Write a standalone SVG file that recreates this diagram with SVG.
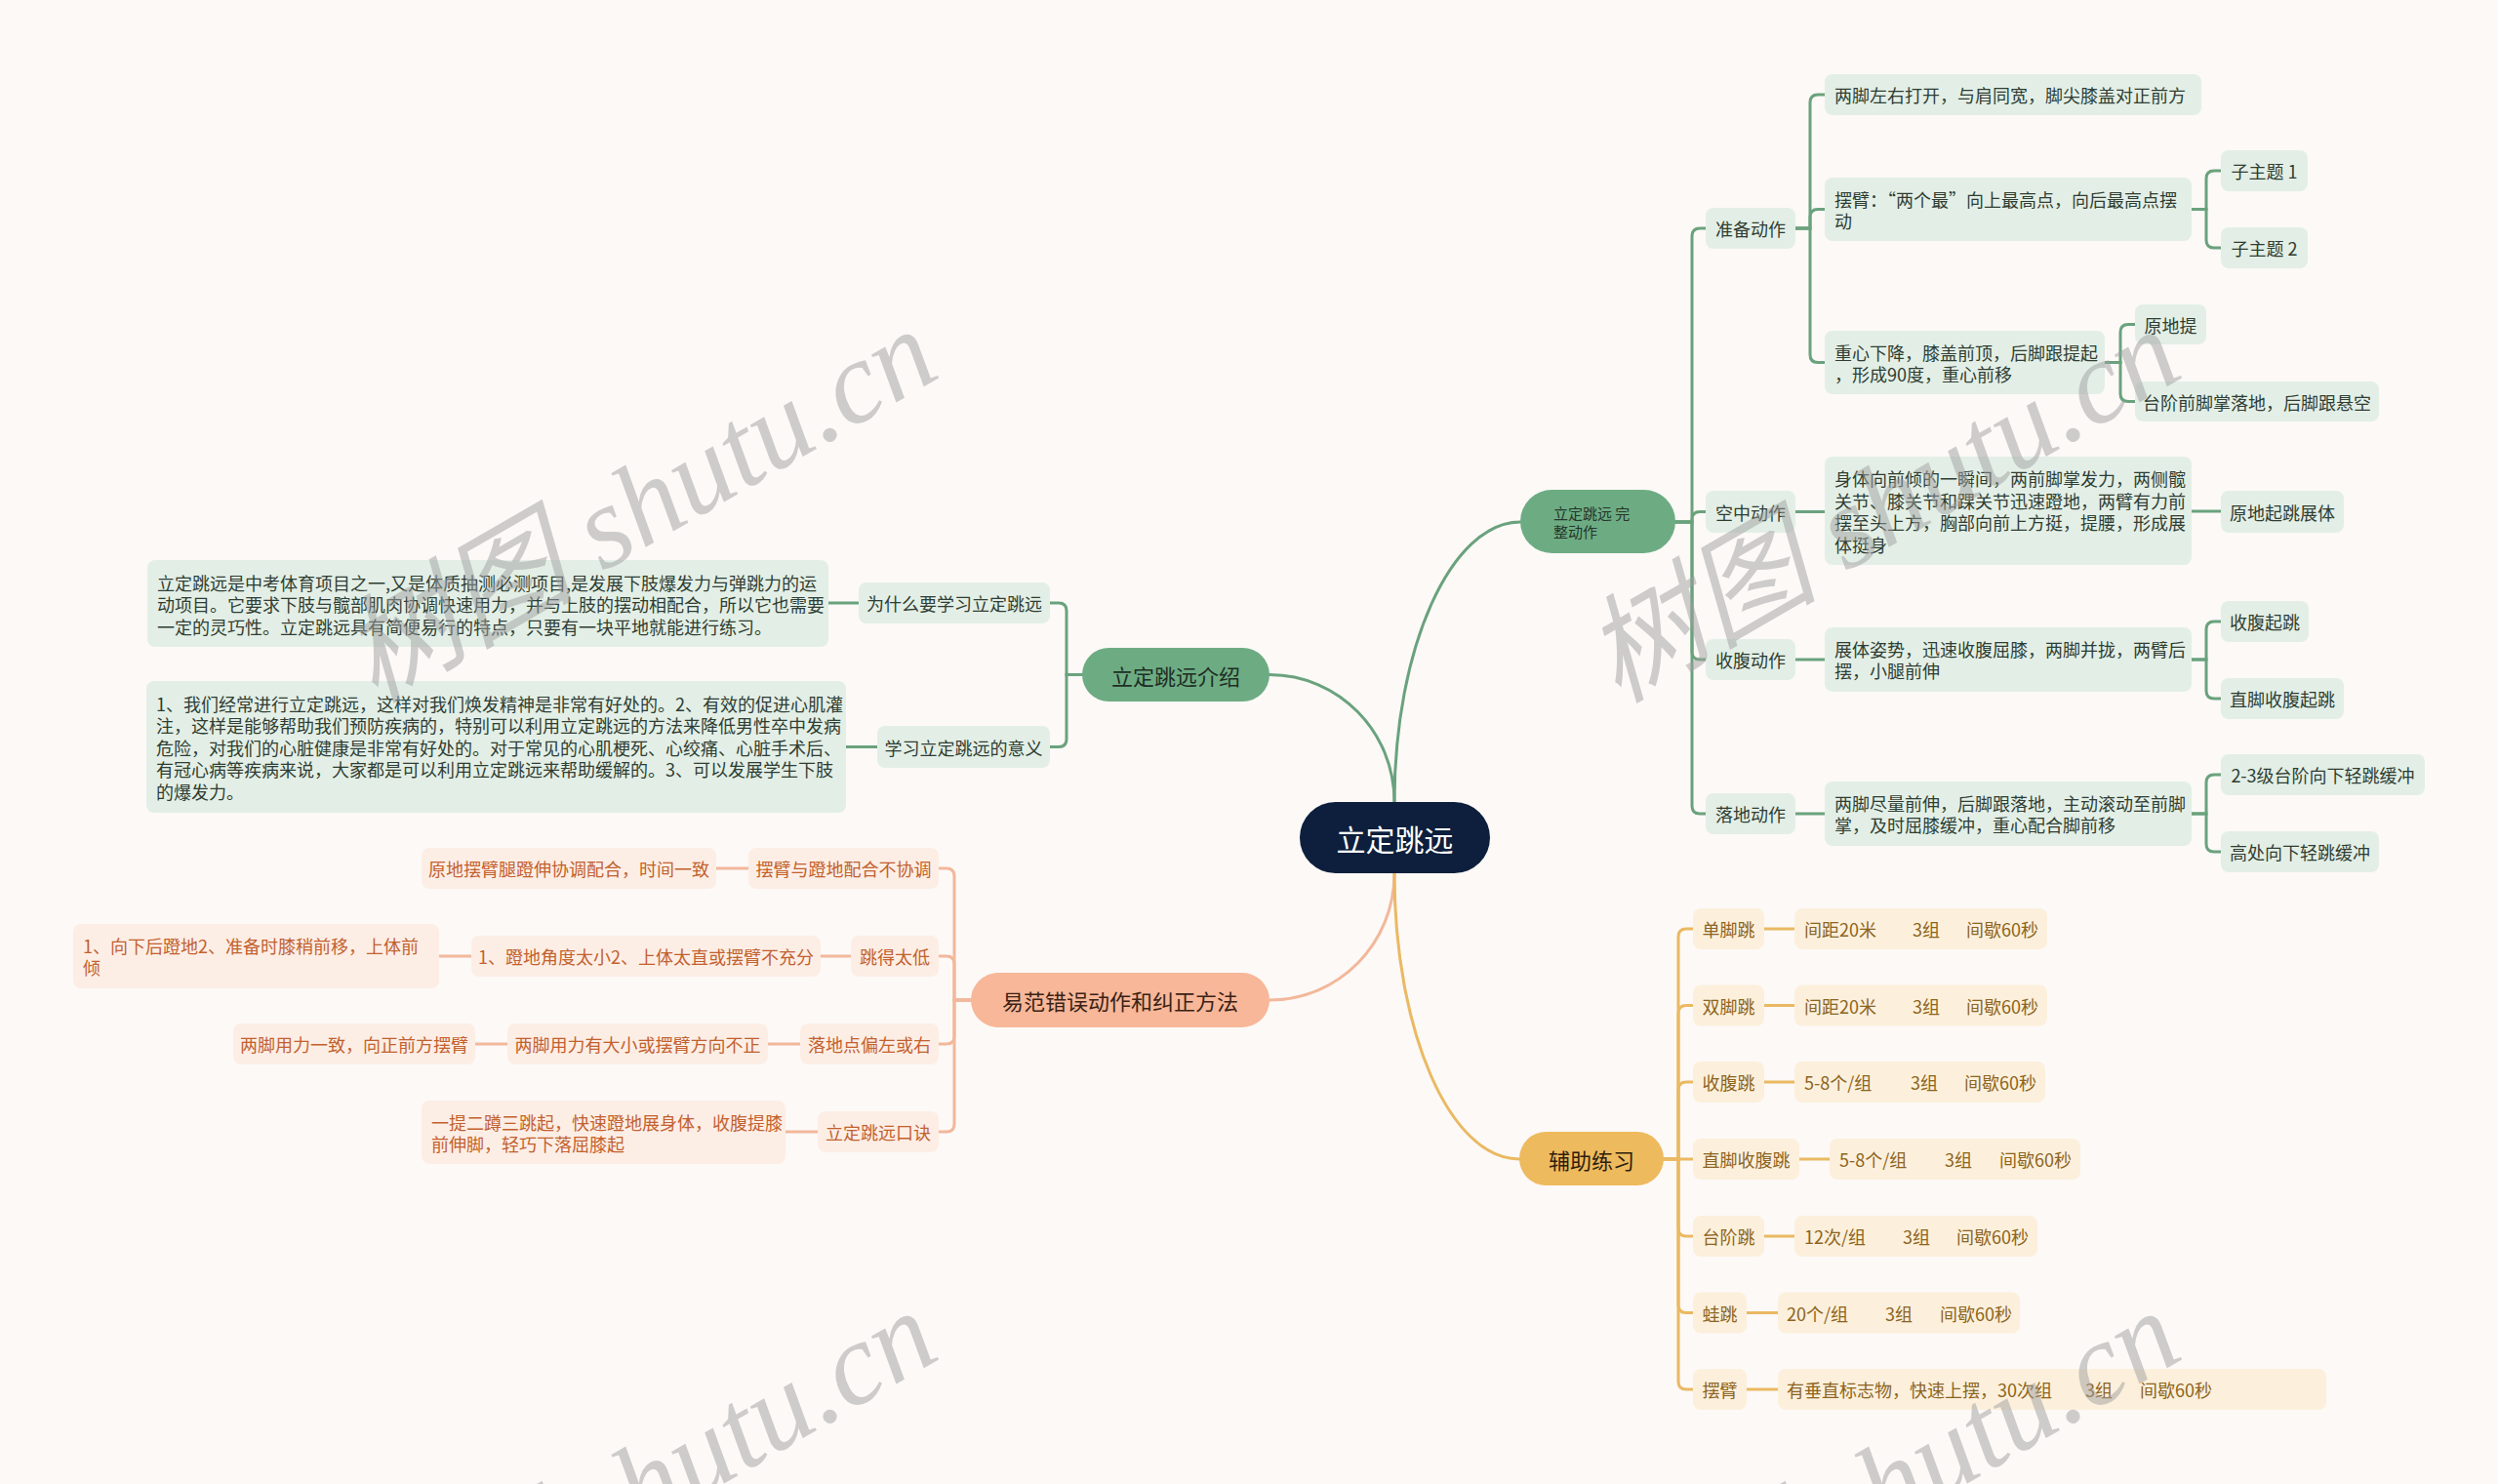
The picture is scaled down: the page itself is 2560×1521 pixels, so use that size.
<svg xmlns="http://www.w3.org/2000/svg" width="2560" height="1521" viewBox="0 0 2560 1521">
<style>
text{font-family:"Noto Sans CJK SC","Liberation Sans",sans-serif;dominant-baseline:central}
.m{text-anchor:middle}
.cg{fill:none;stroke:#6aa27d;stroke-width:3;stroke-linecap:round}
.co{fill:none;stroke:#f2b89b;stroke-width:3;stroke-linecap:round}
.cy{fill:none;stroke:#eab962;stroke-width:3;stroke-linecap:round}
.g1{fill:#6dac83}
.g2{fill:#e3efe6}
.o1{fill:#f7b798}
.o2{fill:#fdeee5}
.y1{fill:#eeba5e}
.y2{fill:#fcf0dc}
.tg{fill:#2f3d33;font-size:18px}
.to{fill:#c2612e;font-size:18px}
.ty{fill:#8d6420;font-size:18px}
.t1{font-size:22px}
.wm{font-family:"Liberation Serif","Noto Sans CJK SC",serif;font-style:italic;font-size:120px;fill:#a0a0a0;opacity:0.5;text-anchor:middle;dominant-baseline:central}
</style>
<rect x="0" y="0" width="2560" height="1521" fill="#fcf9f7"/>

<g id="connectors">
<path class="cg" d="M1429,822 C1429,664 1487,535 1558,535"/>
<path class="cg" d="M1429,822 C1429,750 1372,691.5 1301,691.5"/>
<path class="co" d="M1429,895 C1429,967 1372,1025 1301,1025"/>
<path class="cy" d="M1429,895 C1429,1057 1486,1188 1557,1188"/>

<path class="cg" d="M1717,535 H1734 V242 Q1734,234 1742,234 H1748"/>
<path class="cg" d="M1717,535 H1734 V532.5 Q1734,524.5 1742,524.5 H1748"/>
<path class="cg" d="M1717,535 H1734 V668 Q1734,676 1742,676 H1748"/>
<path class="cg" d="M1717,535 H1734 V826 Q1734,834 1742,834 H1748"/>

<path class="cg" d="M1840,234 H1855 V105 Q1855,97 1863,97 H1870"/>
<path class="cg" d="M1840,234 H1855 V222.5 Q1855,214.5 1863,214.5 H1870"/>
<path class="cg" d="M1840,234 H1855 V363.5 Q1855,371.5 1863,371.5 H1870"/>
<path class="cg" d="M2246,214.5 H2261 V183 Q2261,175 2269,175 H2276"/>
<path class="cg" d="M2246,214.5 H2261 V246 Q2261,254 2269,254 H2276"/>
<path class="cg" d="M2157,371.5 H2173 V340.5 Q2173,332.5 2181,332.5 H2188"/>
<path class="cg" d="M2157,371.5 H2173 V403.5 Q2173,411.5 2181,411.5 H2188"/>
<path class="cg" d="M1840,524.5 H1870"/>
<path class="cg" d="M2246,524 H2276"/>
<path class="cg" d="M1840,676 H1870"/>
<path class="cg" d="M2246,676 H2261 V645 Q2261,637 2269,637 H2276"/>
<path class="cg" d="M2246,676 H2261 V708 Q2261,716 2269,716 H2276"/>
<path class="cg" d="M1840,834 H1870"/>
<path class="cg" d="M2246,834 H2261 V802 Q2261,794 2269,794 H2276"/>
<path class="cg" d="M2246,834 H2261 V865 Q2261,873 2269,873 H2276"/>

<path class="cg" d="M1109,691.5 H1093 V626 Q1093,618 1085,618 H1076"/>
<path class="cg" d="M1109,691.5 H1093 V757.5 Q1093,765.5 1085,765.5 H1076"/>
<path class="cg" d="M880,618 H849"/>
<path class="cg" d="M899,765.5 H867"/>

<path class="co" d="M995,1025 H978 V898 Q978,890 970,890 H962"/>
<path class="co" d="M995,1025 H978 V988 Q978,980 970,980 H962"/>
<path class="co" d="M995,1025 H978 V1062 Q978,1070 970,1070 H962"/>
<path class="co" d="M995,1025 H978 V1152 Q978,1160 970,1160 H962"/>
<path class="co" d="M767,890 H734"/>
<path class="co" d="M872,980 H841"/>
<path class="co" d="M483,980 H450"/>
<path class="co" d="M820,1070 H787"/>
<path class="co" d="M520,1070 H487"/>
<path class="co" d="M838,1160 H805"/>

<path class="cy" d="M1705,1188 H1720 V960 Q1720,952 1728,952 H1735"/>
<path class="cy" d="M1705,1188 H1720 V1038.5 Q1720,1030.5 1728,1030.5 H1735"/>
<path class="cy" d="M1705,1188 H1720 V1117 Q1720,1109 1728,1109 H1735"/>
<path class="cy" d="M1705,1188 H1735"/>
<path class="cy" d="M1705,1188 H1720 V1259 Q1720,1267 1728,1267 H1735"/>
<path class="cy" d="M1705,1188 H1720 V1337.5 Q1720,1345.5 1728,1345.5 H1735"/>
<path class="cy" d="M1705,1188 H1720 V1416 Q1720,1424 1728,1424 H1735"/>
<path class="cy" d="M1808,952 H1839"/>
<path class="cy" d="M1808,1030.5 H1839"/>
<path class="cy" d="M1808,1109 H1839"/>
<path class="cy" d="M1844,1188 H1875"/>
<path class="cy" d="M1808,1267 H1839"/>
<path class="cy" d="M1790,1345.5 H1822"/>
<path class="cy" d="M1790,1424 H1822"/>
</g>

<g id="root">
<rect x="1332" y="822" width="195" height="73" rx="36.5" fill="#0d1f3c"/>
<text x="1429.5" y="858.5" class="m" font-size="30" fill="#ffffff">立定跳远</text>
</g>

<!-- green right -->
<g id="wanzheng">
<rect class="g1" x="1558" y="502" width="159" height="65" rx="32.5"/>
<text x="1592" y="525" font-size="15" fill="#24352a">立定跳远 完</text>
<text x="1592" y="544" font-size="15" fill="#24352a">整动作</text>
</g>
<g id="zhunbei"><rect class="g2" x="1748" y="213" width="92" height="42" rx="8"/><text class="tg m" x="1794" y="234">准备动作</text></g>
<g id="kongzhong"><rect class="g2" x="1748" y="503" width="92" height="43" rx="8"/><text class="tg m" x="1794" y="524.5">空中动作</text></g>
<g id="shoufu"><rect class="g2" x="1748" y="655" width="92" height="42" rx="8"/><text class="tg m" x="1794" y="676">收腹动作</text></g>
<g id="luodi"><rect class="g2" x="1748" y="813" width="92" height="42" rx="8"/><text class="tg m" x="1794" y="834">落地动作</text></g>

<g id="a1"><rect class="g2" x="1870" y="76" width="386" height="42" rx="8"/><text class="tg" x="1880" y="97">两脚左右打开，与肩同宽，脚尖膝盖对正前方</text></g>
<g id="a2"><rect class="g2" x="1870" y="182" width="376" height="65" rx="8"/><text class="tg" x="1880" y="204">摆臂：“两个最”向上最高点，向后最高点摆</text><text class="tg" x="1880" y="226">动</text></g>
<g id="a3"><rect class="g2" x="1870" y="339" width="287" height="65" rx="8"/><text class="tg" x="1880" y="360.5">重心下降，膝盖前顶，后脚跟提起</text><text class="tg" x="1880" y="382.5">，形成90度，重心前移</text></g>
<g id="b1"><rect class="g2" x="1870" y="468" width="376" height="111" rx="8"/>
<text class="tg" x="1880" y="490">身体向前倾的一瞬间，两前脚掌发力，两侧髋</text>
<text class="tg" x="1880" y="512.5">关节、膝关节和踝关节迅速蹬地，两臂有力前</text>
<text class="tg" x="1880" y="535">摆至头上方，胸部向前上方挺，提腰，形成展</text>
<text class="tg" x="1880" y="557.5">体挺身</text></g>
<g id="c1"><rect class="g2" x="1870" y="643" width="376" height="66" rx="8"/><text class="tg" x="1880" y="665">展体姿势，迅速收腹屈膝，两脚并拢，两臂后</text><text class="tg" x="1880" y="687">摆，小腿前伸</text></g>
<g id="d1"><rect class="g2" x="1870" y="801" width="376" height="66" rx="8"/><text class="tg" x="1880" y="823">两脚尽量前伸，后脚跟落地，主动滚动至前脚</text><text class="tg" x="1880" y="845">掌，及时屈膝缓冲，重心配合脚前移</text></g>

<g id="zzt1"><rect class="g2" x="2276" y="154" width="89" height="42" rx="8"/><text class="tg m" x="2320.5" y="175">子主题 1</text></g>
<g id="zzt2"><rect class="g2" x="2276" y="233" width="89" height="42" rx="8"/><text class="tg m" x="2320.5" y="254">子主题 2</text></g>
<g id="yuanditi"><rect class="g2" x="2188" y="312" width="73" height="41" rx="8"/><text class="tg m" x="2224.5" y="332.5">原地提</text></g>
<g id="taijie"><rect class="g2" x="2188" y="391" width="250" height="41" rx="8"/><text class="tg m" x="2313" y="411.5">台阶前脚掌落地，后脚跟悬空</text></g>
<g id="zhanti"><rect class="g2" x="2276" y="503" width="126" height="43" rx="8"/><text class="tg m" x="2339" y="524.5">原地起跳展体</text></g>
<g id="sfqt"><rect class="g2" x="2276" y="616" width="90" height="42" rx="8"/><text class="tg m" x="2321" y="637">收腹起跳</text></g>
<g id="zjsfqt"><rect class="g2" x="2276" y="695" width="126" height="42" rx="8"/><text class="tg m" x="2339" y="716">直脚收腹起跳</text></g>
<g id="taijie23"><rect class="g2" x="2276" y="773" width="209" height="42" rx="8"/><text class="tg m" x="2380.5" y="794">2-3级台阶向下轻跳缓冲</text></g>
<g id="gaochu"><rect class="g2" x="2276" y="852" width="162" height="42" rx="8"/><text class="tg m" x="2357" y="873">高处向下轻跳缓冲</text></g>

<!-- green left -->
<g id="jieshao"><rect class="g1" x="1109" y="664" width="192" height="55" rx="27.5"/><text class="m t1" x="1205" y="691.5" fill="#1f2e24">立定跳远介绍</text></g>
<g id="weishenme"><rect class="g2" x="880" y="597" width="196" height="42" rx="8"/><text class="tg m" x="978" y="618">为什么要学习立定跳远</text></g>
<g id="yiyi"><rect class="g2" x="899" y="744" width="177" height="43" rx="8"/><text class="tg m" x="987.5" y="765.5">学习立定跳远的意义</text></g>
<g id="long1"><rect class="g2" x="151" y="574" width="698" height="89" rx="8"/>
<text class="tg" x="161" y="596.5">立定跳远是中考体育项目之一,又是体质抽测必测项目,是发展下肢爆发力与弹跳力的运</text>
<text class="tg" x="161" y="619">动项目。它要求下肢与髋部肌肉协调快速用力，并与上肢的摆动相配合，所以它也需要</text>
<text class="tg" x="161" y="641.5">一定的灵巧性。立定跳远具有简便易行的特点，只要有一块平地就能进行练习。</text></g>
<g id="long2"><rect class="g2" x="150" y="698" width="717" height="135" rx="8"/>
<text class="tg" x="160" y="720.5">1、我们经常进行立定跳远，这样对我们焕发精神是非常有好处的。2、有效的促进心肌灌</text>
<text class="tg" x="160" y="743">注，这样是能够帮助我们预防疾病的，特别可以利用立定跳远的方法来降低男性卒中发病</text>
<text class="tg" x="160" y="765.5">危险，对我们的心脏健康是非常有好处的。对于常见的心肌梗死、心绞痛、心脏手术后、</text>
<text class="tg" x="160" y="788">有冠心病等疾病来说，大家都是可以利用立定跳远来帮助缓解的。3、可以发展学生下肢</text>
<text class="tg" x="160" y="810.5">的爆发力。</text></g>

<!-- orange -->
<g id="yifan"><rect class="o1" x="995" y="997" width="306" height="56" rx="28"/><text class="m t1" x="1148" y="1025" fill="#3b2216">易范错误动作和纠正方法</text></g>
<g id="o_baibi"><rect class="o2" x="767" y="869" width="195" height="42" rx="8"/><text class="to m" x="864.5" y="890">摆臂与蹬地配合不协调</text></g>
<g id="o_baibi_fix"><rect class="o2" x="432" y="869" width="302" height="42" rx="8"/><text class="to m" x="583" y="890">原地摆臂腿蹬伸协调配合，时间一致</text></g>
<g id="o_tiaode"><rect class="o2" x="872" y="959" width="90" height="42" rx="8"/><text class="to m" x="917" y="980">跳得太低</text></g>
<g id="o_tiaode_c"><rect class="o2" x="483" y="959" width="358" height="42" rx="8"/><text class="to m" x="662" y="980">1、蹬地角度太小2、上体太直或摆臂不充分</text></g>
<g id="o_tiaode_fix"><rect class="o2" x="75" y="947" width="375" height="66" rx="8"/><text class="to" x="85" y="969">1、向下后蹬地2、准备时膝稍前移，上体前</text><text class="to" x="85" y="991">倾</text></g>
<g id="o_luodi"><rect class="o2" x="820" y="1049" width="142" height="42" rx="8"/><text class="to m" x="891" y="1070">落地点偏左或右</text></g>
<g id="o_luodi_c"><rect class="o2" x="520" y="1049" width="267" height="42" rx="8"/><text class="to m" x="653.5" y="1070">两脚用力有大小或摆臂方向不正</text></g>
<g id="o_luodi_fix"><rect class="o2" x="239" y="1049" width="248" height="42" rx="8"/><text class="to m" x="363" y="1070">两脚用力一致，向正前方摆臂</text></g>
<g id="o_koujue"><rect class="o2" x="838" y="1139" width="124" height="42" rx="8"/><text class="to m" x="900" y="1160">立定跳远口诀</text></g>
<g id="o_koujue_t"><rect class="o2" x="432" y="1128" width="373" height="65" rx="8"/><text class="to" x="442" y="1149.5">一提二蹲三跳起，快速蹬地展身体，收腹提膝</text><text class="to" x="442" y="1171.5">前伸脚，轻巧下落屈膝起</text></g>

<!-- yellow -->
<g id="fuzhu"><rect class="y1" x="1557" y="1160" width="148" height="55" rx="27.5"/><text class="m t1" x="1631" y="1187.5" fill="#2e200c">辅助练习</text></g>
<g id="y_danjiao"><rect class="y2" x="1735" y="931" width="73" height="42" rx="8"/><text class="ty m" x="1771.5" y="952">单脚跳</text></g>
<g id="y_shuangjiao"><rect class="y2" x="1735" y="1009.5" width="73" height="42" rx="8"/><text class="ty m" x="1771.5" y="1030.5">双脚跳</text></g>
<g id="y_shoufu"><rect class="y2" x="1735" y="1088" width="73" height="42" rx="8"/><text class="ty m" x="1771.5" y="1109">收腹跳</text></g>
<g id="y_zhijiao"><rect class="y2" x="1735" y="1167" width="109" height="42" rx="8"/><text class="ty m" x="1789.5" y="1188">直脚收腹跳</text></g>
<g id="y_taijie"><rect class="y2" x="1735" y="1246" width="73" height="42" rx="8"/><text class="ty m" x="1771.5" y="1267">台阶跳</text></g>
<g id="y_wa"><rect class="y2" x="1735" y="1324.5" width="55" height="42" rx="8"/><text class="ty m" x="1762.5" y="1345.5">蛙跳</text></g>
<g id="y_baibi"><rect class="y2" x="1735" y="1403" width="55" height="42" rx="8"/><text class="ty m" x="1762.5" y="1424">摆臂</text></g>

<g id="y_danjiao_d"><rect class="y2" x="1839" y="931" width="259" height="42" rx="8"/><text class="ty" y="952"><tspan x="1849">间距20米</tspan><tspan x="1960">3组</tspan><tspan x="2015">间歇60秒</tspan></text></g>
<g id="y_shuangjiao_d"><rect class="y2" x="1839" y="1009.5" width="259" height="42" rx="8"/><text class="ty" y="1030.5"><tspan x="1849">间距20米</tspan><tspan x="1960">3组</tspan><tspan x="2015">间歇60秒</tspan></text></g>
<g id="y_shoufu_d"><rect class="y2" x="1839" y="1088" width="257" height="42" rx="8"/><text class="ty" y="1109"><tspan x="1849">5-8个/组</tspan><tspan x="1958">3组</tspan><tspan x="2013">间歇60秒</tspan></text></g>
<g id="y_zhijiao_d"><rect class="y2" x="1875" y="1167" width="257" height="42" rx="8"/><text class="ty" y="1188"><tspan x="1885">5-8个/组</tspan><tspan x="1993">3组</tspan><tspan x="2049">间歇60秒</tspan></text></g>
<g id="y_taijie_d"><rect class="y2" x="1839" y="1246" width="249" height="42" rx="8"/><text class="ty" y="1267"><tspan x="1849">12次/组</tspan><tspan x="1950">3组</tspan><tspan x="2005">间歇60秒</tspan></text></g>
<g id="y_wa_d"><rect class="y2" x="1822" y="1324.5" width="248" height="42" rx="8"/><text class="ty" y="1345.5"><tspan x="1831">20个/组</tspan><tspan x="1932">3组</tspan><tspan x="1988">间歇60秒</tspan></text></g>
<g id="y_baibi_d"><rect class="y2" x="1822" y="1403" width="562" height="42" rx="8"/><text class="ty" y="1424"><tspan x="1831">有垂直标志物，快速上摆，30次组</tspan><tspan x="2137">3组</tspan><tspan x="2193">间歇60秒</tspan></text></g>

<g id="watermark">
<text class="wm" transform="translate(655,518) rotate(-30)">树图 shutu.cn</text>
<text class="wm" transform="translate(1929,518) rotate(-30)">树图 shutu.cn</text>
<text class="wm" transform="translate(655,1524) rotate(-30)">树图 shutu.cn</text>
<text class="wm" transform="translate(1929,1524) rotate(-30)">树图 shutu.cn</text>
</g>
</svg>
